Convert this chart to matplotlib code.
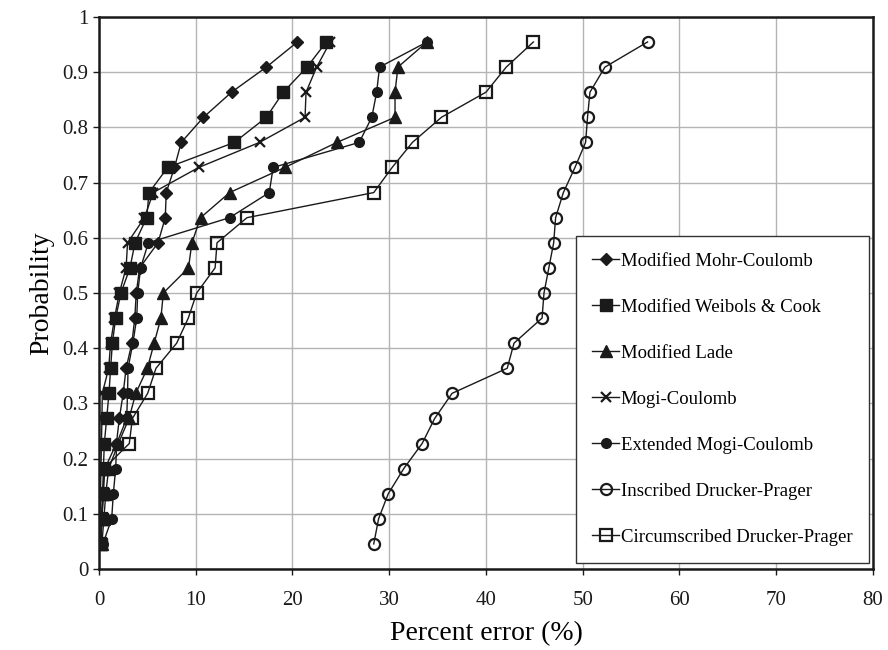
import numpy as np
import matplotlib
matplotlib.use("Agg")
import matplotlib.pyplot as plt
from matplotlib.ticker import FuncFormatter

plt.rcParams['font.family'] = ['Liberation Serif', 'DejaVu Serif']

# Probability levels (i/22, i = 1..21)
prob = [i / 22 for i in range(1, 22)]

# Percent error for each criterion, sorted ascending
mohr_coulomb = [0.2, 0.3, 0.45, 0.6, 1.8, 2.1, 2.5, 2.8, 3.4, 3.7, 3.85,
                4.2, 6.1, 6.85, 6.95, 7.8, 8.5, 10.8, 13.7, 17.3, 20.5]
weibols_cook = [0.2, 0.28, 0.45, 0.45, 0.55, 0.79, 1.03, 1.2, 1.38, 1.72, 2.27,
                3.2, 3.72, 4.93, 5.17, 7.1, 14.0, 17.3, 19.05, 21.5, 23.5]
lade = [0.3, 0.5, 0.7, 1.0, 2.0, 3.1, 3.8, 5.0, 5.7, 6.4, 6.65,
        9.25, 9.6, 10.5, 13.5, 19.2, 24.6, 30.6, 30.6, 30.9, 33.9]
mogi = [0.05, 0.1, 0.15, 0.2, 0.25, 0.3, 0.34, 1.0, 1.2, 1.6, 2.1,
        2.8, 2.95, 4.7, 5.6, 10.3, 16.6, 21.3, 21.4, 22.5, 23.9]
ext_mogi = [0.4, 1.31, 1.48, 1.72, 1.83, 2.86, 2.95, 3.0, 3.5, 3.9, 4.0,
            4.3, 5.1, 13.5, 17.6, 18.0, 26.9, 28.2, 28.7, 29.0, 33.9]
inscribed_dp = [28.4, 28.9, 29.9, 31.5, 33.4, 34.7, 36.5, 42.2, 42.9, 45.8, 46.0,
                46.5, 47.0, 47.2, 48.0, 49.2, 50.3, 50.5, 50.75, 52.3, 56.7]
circum_dp = [0.15, 0.25, 0.35, 0.5, 3.13, 3.45, 5.03, 5.89, 8.03, 9.23, 10.1,
             12.0, 12.2, 15.3, 28.4, 30.3, 32.4, 35.4, 40.0, 42.1, 44.9]

labels = ['Modified Mohr-Coulomb', 'Modified Weibols & Cook', 'Modified Lade',
          'Mogi-Coulomb', 'Extended Mogi-Coulomb', 'Inscribed Drucker-Prager',
          'Circumscribed Drucker-Prager']
series = [mohr_coulomb, weibols_cook, lade, mogi, ext_mogi, inscribed_dp, circum_dp]

# marker, size, filled
styles = [('D', 6, True), ('s', 8, True), ('^', 8, True), ('x', 7, True),
          ('o', 7, True), ('o', 8, False), ('s', 8, False)]

fig = plt.figure(figsize=(8.88, 6.5), dpi=100)
ax = fig.add_axes([0.1115, 0.1246, 0.8715, 0.8494])

for vals, lab, (m, ms, filled) in zip(series, labels, styles):
    kw = dict(color='#1a1a1a', lw=1.0, marker=m, markersize=ms, label=lab)
    if filled:
        kw.update(markerfacecolor='#1a1a1a', markeredgecolor='#1a1a1a')
        if m == 'x':
            kw.update(markeredgewidth=1.6)
    else:
        kw.update(markerfacecolor='none', markeredgecolor='#1a1a1a', markeredgewidth=1.6)
    ax.plot(vals, prob, **kw)

ax.set_xlim(0, 80)
ax.set_ylim(0, 1)
ax.set_xticks(np.arange(0, 81, 10))
ax.set_yticks(np.arange(0, 1.01, 0.1))
ax.yaxis.set_major_formatter(FuncFormatter(lambda v, p: '%g' % round(v, 1)))
ax.grid(True, color='#b4b4b4', lw=1.0)
ax.set_axisbelow(True)
for s in ax.spines.values():
    s.set_linewidth(1.8)
    s.set_color('#1a1a1a')
ax.tick_params(direction='out', length=4, width=1, colors='#1a1a1a', labelsize=15)
ax.tick_params(axis='x', pad=12)

ax.set_xlabel('Percent error (%)', fontsize=20, labelpad=8)
ax.set_ylabel('Probability', fontsize=20, labelpad=6)

leg = ax.legend(loc='lower right', bbox_to_anchor=(0.995, 0.011), borderaxespad=0,
                fontsize=13.5, labelspacing=1.54, handlelength=1.4, handletextpad=0.1,
                fancybox=False, framealpha=1, borderpad=0.9)
leg.get_frame().set_edgecolor('#333333')
leg.get_frame().set_linewidth(1.0)

fig.savefig('out.png', dpi=100)
